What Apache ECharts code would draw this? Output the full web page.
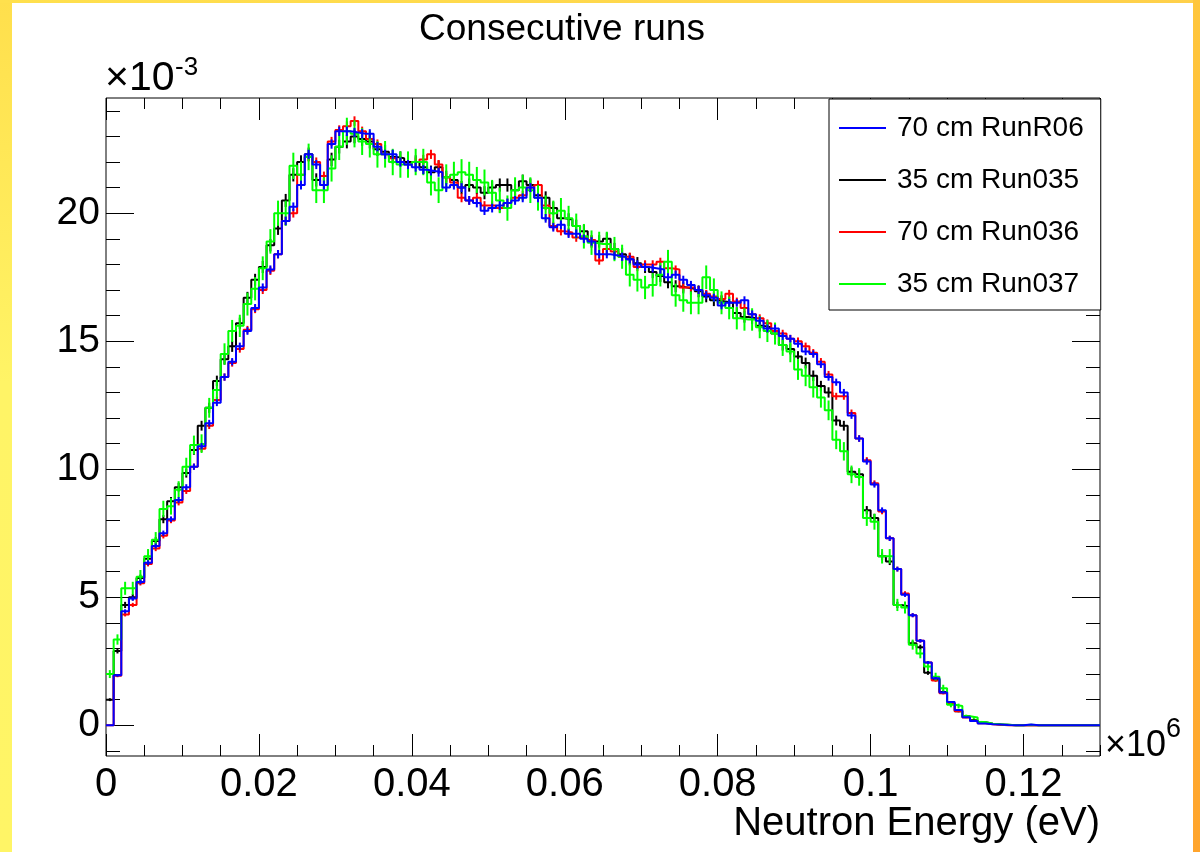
<!DOCTYPE html>
<html><head><meta charset="utf-8">
<script src="https://cdn.jsdelivr.net/npm/echarts@6/dist/echarts.min.js"></script>
<style>html,body{margin:0;padding:0;background:#fff}#c{width:1200px;height:852px}</style>
</head><body><div id="c"></div>
<script>
// ---- data (x in units of 10^6 eV, y in units of 10^-3) ----
const seriesNames = ['70 cm RunR06', '35 cm Run035', '70 cm Run036', '35 cm Run037'];
const seriesColors = ['#0000ff', '#000000', '#ff0000', '#00ff00'];
const binWidth = 0.001;
const runR06 = [
 0.0, 1.95, 4.45, 4.95, 5.6, 6.35, 7.0, 7.5, 8.05, 8.8,
 9.3, 10.1, 10.9, 11.8, 12.6, 13.6, 14.2, 14.8, 15.4, 16.3,
 17.1, 17.8, 18.4, 19.7, 20.25, 21.1, 22.3, 21.9, 21.1, 22.7,
 23.2, 23.2, 23.15, 23.1, 23.1, 22.6, 22.3, 22.3, 22.0, 21.9,
 21.8, 21.7, 21.65, 21.6, 21.0, 21.1, 21.0, 20.5, 20.4, 20.1,
 20.2, 20.3, 20.4, 20.5, 20.6, 21.0, 20.6, 19.8, 19.45, 19.55,
 19.2, 19.2, 19.0, 18.9, 18.4, 18.4, 18.35, 18.3, 18.2, 18.0,
 17.9, 17.85, 17.8, 17.5, 17.6, 17.4, 17.2, 17.0, 16.8, 16.7,
 16.4, 16.5, 16.5, 16.6, 16.05, 15.8, 15.5, 15.5, 15.2, 15.1,
 14.9, 14.6, 14.5, 14.1, 13.6, 13.4, 13.0, 12.1, 11.2, 10.3,
 9.4, 8.4, 7.3, 6.1, 5.1, 4.3, 3.3, 2.45, 1.84, 1.28,
 0.91, 0.6, 0.31, 0.17, 0.07, 0.04, 0.03, 0.01, 0, 0,
 0.03, 0, 0, 0, 0, 0, 0, 0, 0, 0];
const run035 = [
 1.0, 2.9, 4.7, 5.0, 5.75, 6.5, 7.2, 8.05, 8.75, 9.3,
 9.85, 10.75, 11.7, 12.4, 13.45, 14.3, 14.8, 15.7, 16.7, 17.4,
 17.9, 18.75, 19.4, 20.5, 21.5, 22.0, 22.3, 21.3, 21.1, 22.1,
 22.6, 22.8, 23.0, 22.9, 22.8, 22.5, 22.4, 22.2, 22.15, 22.0,
 22.0, 21.8, 21.6, 21.8, 21.4, 21.3, 21.0, 21.1, 21.0, 20.8,
 21.0, 21.1, 21.1, 20.9, 21.25, 21.1, 20.7, 20.6, 20.2, 19.8,
 19.75, 19.5, 19.3, 18.9, 18.9, 19.0, 18.6, 18.4, 18.2, 18.05,
 17.9, 17.7, 17.55, 17.3, 17.15, 17.1, 17.05, 16.95, 16.75, 16.6,
 16.55, 16.5, 16.1, 15.95, 15.9, 15.6, 15.55, 15.3, 14.85, 14.7,
 14.4, 14.15, 13.65, 13.25, 13.0, 11.9, 11.7, 9.9, 9.8, 8.4,
 8.1, 6.6, 6.4, 4.7, 4.65, 3.2, 3.05, 2.05, 1.8, 1.3,
 0.85, 0.55, 0.35, 0.2, 0.12, 0.06, 0.03, 0.02, 0, 0,
 0, 0, 0, 0, 0, 0, 0, 0, 0, 0];
const run036 = [
 0.0, 1.93, 4.33, 4.7, 5.55, 6.3, 6.9, 7.4, 8.0, 8.7,
 9.15, 10.1, 10.8, 11.7, 12.7, 13.6, 14.15, 14.7, 15.45, 16.25,
 17.0, 17.75, 18.4, 19.7, 20.0, 21.5, 22.2, 22.0, 21.45, 22.8,
 23.25, 23.4, 23.6, 23.2, 22.9, 22.7, 22.3, 22.15, 22.0, 21.9,
 22.0, 22.1, 22.3, 21.9, 21.4, 21.2, 20.6, 20.5, 20.6, 20.3,
 20.3, 20.2, 20.4, 20.6, 20.7, 21.0, 21.1, 20.3, 19.5, 19.3,
 19.25, 19.05, 19.05, 18.95, 18.15, 18.6, 18.5, 18.3, 18.3, 17.9,
 18.0, 18.0, 18.1, 17.85, 17.8, 17.1, 17.1, 17.0, 16.85, 16.75,
 16.65, 16.85, 16.55, 16.3, 16.05, 15.9, 15.7, 15.4, 15.3, 15.1,
 15.0, 14.8, 14.55, 14.2, 13.7, 12.85, 12.85, 12.2, 11.2, 10.35,
 9.45, 8.35, 7.3, 6.1, 5.15, 4.3, 3.3, 2.45, 1.75, 1.25,
 0.85, 0.55, 0.3, 0.17, 0.08, 0.04, 0.02, 0, 0, 0,
 0, 0, 0, 0, 0, 0, 0, 0, 0, 0];
const run037 = [
 2.0, 3.35, 5.35, 5.35, 5.8, 6.6, 7.25, 8.45, 8.55, 9.2,
 10.1, 10.95, 11.0, 12.4, 13.1, 14.5, 15.4, 15.6, 16.45, 17.05,
 17.85, 18.9, 20.0, 20.0, 21.85, 21.5, 22.2, 20.9, 20.9, 21.75,
 22.6, 23.2, 23.1, 22.8, 22.7, 22.3, 22.3, 22.0, 21.9, 21.9,
 22.0, 22.0, 21.2, 20.9, 21.4, 21.5, 21.6, 21.5, 21.3, 21.2,
 20.8, 20.5, 20.2, 20.9, 21.0, 20.9, 20.6, 20.2, 20.0, 20.1,
 19.8, 19.5, 19.1, 18.85, 18.8, 18.8, 18.6, 18.3, 17.6, 17.4,
 17.1, 17.2, 17.6, 18.1, 16.8, 16.6, 16.5, 16.5, 17.5, 17.0,
 16.5, 16.3, 15.9, 15.85, 15.85, 15.55, 15.4, 15.3, 14.85, 14.6,
 13.9, 13.65, 13.2, 12.8, 12.3, 11.15, 10.7, 9.8, 9.7, 8.1,
 7.95, 6.6, 6.6, 4.7, 4.6, 3.15, 2.8, 2.3, 1.9, 1.45,
 0.8, 0.75, 0.35, 0.3, 0.13, 0.06, 0.04, 0.02, 0, 0,
 0.02, 0, 0, 0, 0, 0, 0, 0, 0, 0];
const seriesValues = [runR06, run035, run036, run037];
// relative statistical error factor per run (error = k * sqrt(content))
const errScale = [0.038, 0.056, 0.038, 0.11];
const xMajorTicks = [0, 0.02, 0.04, 0.06, 0.08, 0.1, 0.12];
const yMajorTicks = [0, 5, 10, 15, 20];
const xRange = [0, 0.13];
const yRange = [-1.2, 24.5];

// ---- layout / style ----
const FONT = "'Liberation Sans', Arial, Helvetica, sans-serif";
const G = {left: 106, right: 100, top: 98, bottom: 96};
const xMinorTicks = [], yMinorTicks = [];
for (let k = 0; k <= 26; k++) { const v = +(k * 0.005).toFixed(4); if (k % 4 !== 0) xMinorTicks.push(v); }
for (let k = -1; k <= 24; k++) { if (k % 5 !== 0) yMinorTicks.push(k); }

function xAx(grid, pos, ticks, len, withLabels) {
  return {
    type: 'value', gridIndex: grid, position: pos, min: xRange[0], max: xRange[1],
    axisLine: {show: false, onZero: false}, splitLine: {show: false},
    axisTick: {show: true, inside: true, length: len, customValues: ticks, lineStyle: {color: '#000', width: 1}},
    axisLabel: withLabels ? {show: true, customValues: ticks, fontSize: 40, fontFamily: FONT, color: '#000', margin: 9,
      formatter: v => String(+(+v).toFixed(3))} : {show: false}
  };
}
function yAx(grid, pos, ticks, len, withLabels) {
  return {
    type: 'value', gridIndex: grid, position: pos, min: yRange[0], max: yRange[1],
    axisLine: {show: false, onZero: false}, splitLine: {show: false},
    axisTick: {show: true, inside: true, length: len, customValues: ticks, lineStyle: {color: '#000', width: 1}},
    axisLabel: withLabels ? {show: true, customValues: ticks, fontSize: 39, fontFamily: FONT, color: '#000', margin: 6,
      formatter: v => String(+(+v).toFixed(2))} : {show: false}
  };
}

const drawOrder = [1, 2, 3, 0]; // black, red, green, blue on top
const series = [];
drawOrder.forEach((s, k) => {
  const vals = seriesValues[s];
  const pts = vals.map((v, i) => [i * binWidth, v]);
  pts.push([vals.length * binWidth, vals[vals.length - 1]]);
  series.push({
    type: 'line', name: seriesNames[s], xAxisIndex: 0, yAxisIndex: 0, step: 'end',
    symbol: 'none', showSymbol: false, data: pts, z: 10 + k,
    lineStyle: {color: seriesColors[s], width: 2}, itemStyle: {color: seriesColors[s]},
    animation: false, silent: true
  });
  const errData = vals.map((v, i) => [(i + 0.5) * binWidth, v, errScale[s] * Math.sqrt(v)]);
  const col = seriesColors[s];
  series.push({
    type: 'custom', name: seriesNames[s], xAxisIndex: 0, yAxisIndex: 0, data: errData, z: 10 + k,
    clip: true, animation: false, silent: true, itemStyle: {color: col},
    renderItem: (params, api) => {
      const x = api.value(0), v = api.value(1), e = api.value(2);
      if (!(e > 0.02)) return null;
      const p1 = api.coord([x, v - e]), p2 = api.coord([x, v + e]);
      return {type: 'line', shape: {x1: p1[0], y1: p1[1], x2: p2[0], y2: p2[1]},
        style: {stroke: col, lineWidth: 2}};
    }
  });
});

const chart = echarts.init(document.getElementById('c'), null, {renderer: 'canvas'});
chart.setOption({
  animation: false,
  backgroundColor: '#ffffff',
  grid: [
    Object.assign({show: true, borderColor: '#000', borderWidth: 1, backgroundColor: 'transparent', containLabel: false}, G),
    Object.assign({show: false, containLabel: false}, G)
  ],
  xAxis: [
    xAx(0, 'bottom', xMajorTicks, 22, true),
    xAx(0, 'top', xMajorTicks, 22, false),
    xAx(1, 'bottom', xMinorTicks, 11, false),
    xAx(1, 'top', xMinorTicks, 11, false)
  ],
  yAxis: [
    yAx(0, 'left', yMajorTicks, 28, true),
    yAx(0, 'right', yMajorTicks, 28, false),
    yAx(1, 'left', yMinorTicks, 14, false),
    yAx(1, 'right', yMinorTicks, 14, false)
  ],
  legend: {
    data: seriesNames.map(n => ({name: n})), orient: 'vertical', left: 829, top: 99,
    icon: 'rect', itemWidth: 47, itemHeight: 2, itemGap: 22, padding: [14, 17, 11, 10],
    backgroundColor: '#fff', borderColor: '#000', borderWidth: 1, selectedMode: false,
    textStyle: {fontSize: 28, fontFamily: FONT, color: '#000', lineHeight: 30, padding: [0, 0, 0, 6]}
  },
  series: series,
  graphic: [
    {type: 'rect', shape: {x: 0, y: 0, width: 12, height: 852}, silent: true,
      style: {fill: new echarts.graphic.LinearGradient(0, 0, 0, 1, [
        {offset: 0, color: '#ffdf4c'}, {offset: 0.45, color: '#fff466'}, {offset: 1, color: '#fff566'}])}},
    {type: 'rect', shape: {x: 0, y: 0, width: 1200, height: 3}, silent: true,
      style: {fill: new echarts.graphic.LinearGradient(0, 0, 1, 0, [
        {offset: 0, color: '#ffe04d'}, {offset: 1, color: '#ffd04a'}])}},
    {type: 'rect', shape: {x: 1193, y: 0, width: 7, height: 852}, silent: true,
      style: {fill: new echarts.graphic.LinearGradient(0, 0, 0, 1, [
        {offset: 0, color: '#ffc63c'}, {offset: 1, color: '#ffa42c'}])}},
    {type: 'text', x: 562, y: 30, silent: true,
      style: {text: 'Consecutive runs', fontSize: 37, fontFamily: FONT, fill: '#000', align: 'center', verticalAlign: 'middle'}},
    {type: 'text', x: 1100, y: 824, silent: true,
      style: {text: 'Neutron Energy (eV)', fontSize: 40, fontFamily: FONT, fill: '#000', align: 'right', verticalAlign: 'middle'}},
    {type: 'text', x: 105, y: 79, silent: true,
      style: {text: '\u00d710', fontSize: 41, fontFamily: FONT, fill: '#000', align: 'left', verticalAlign: 'middle'}},
    {type: 'text', x: 175, y: 68, silent: true,
      style: {text: '-3', fontSize: 26, fontFamily: FONT, fill: '#000', align: 'left', verticalAlign: 'middle'}},
    {type: 'text', x: 1105, y: 746, silent: true,
      style: {text: '\u00d710', fontSize: 36, fontFamily: FONT, fill: '#000', align: 'left', verticalAlign: 'middle'}},
    {type: 'text', x: 1166, y: 730, silent: true,
      style: {text: '6', fontSize: 27, fontFamily: FONT, fill: '#000', align: 'left', verticalAlign: 'middle'}}
  ]
});
</script></body></html>
